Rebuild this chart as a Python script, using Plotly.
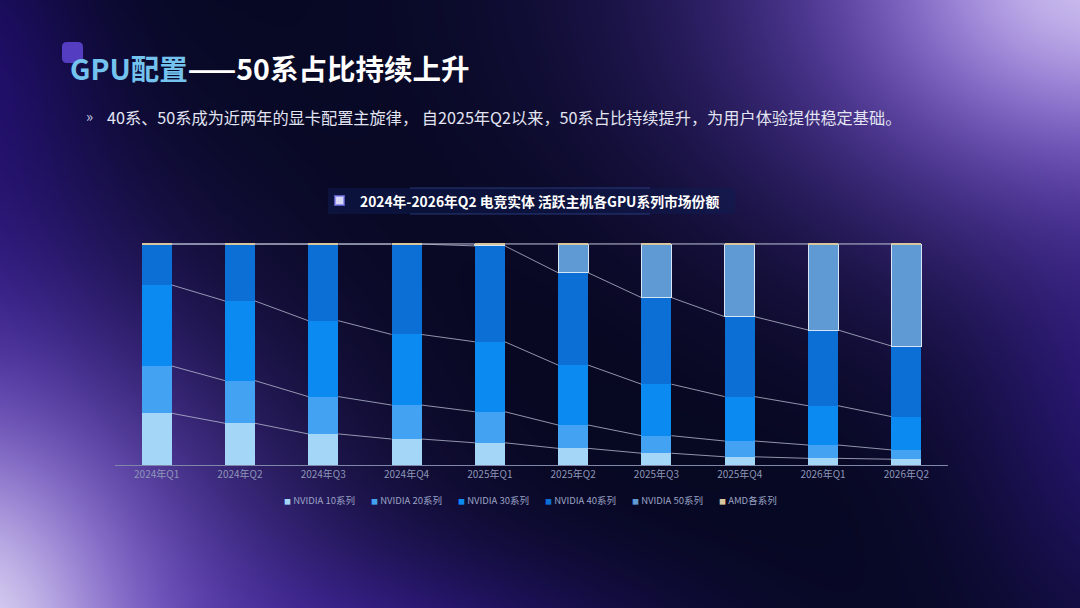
import base64
import struct
import zlib

import numpy as np
import plotly.graph_objects as go

W, H = 1080, 608

quarters = ["2024年Q1", "2024年Q2", "2024年Q3", "2024年Q4", "2025年Q1",
            "2025年Q2", "2025年Q3", "2025年Q4", "2026年Q1", "2026年Q2"]

nv10 = [23.3, 18.8, 14.0, 11.7, 10.0, 7.5, 5.3, 3.7, 3.0, 2.6]
nv20 = [21.3, 19.2, 16.8, 15.3, 14.0, 10.5, 7.9, 7.1, 6.0, 4.2]
nv30 = [36.5, 35.9, 34.2, 31.8, 31.5, 27.0, 23.2, 20.0, 17.7, 15.0]
nv40 = [18.4, 25.6, 34.5, 40.7, 43.2, 41.6, 39.0, 36.0, 34.1, 31.8]
nv50 = [0.0, 0.0, 0.0, 0.0, 0.8, 12.9, 24.1, 32.7, 38.7, 45.9]
amd = [0.5, 0.5, 0.5, 0.5, 0.5, 0.5, 0.5, 0.5, 0.5, 0.5]

series_names = ["NVIDIA 10系列", "NVIDIA 20系列", "NVIDIA 30系列",
                "NVIDIA 40系列", "NVIDIA 50系列", "AMD各系列"]
series_vals = [nv10, nv20, nv30, nv40, nv50, amd]
series_colors = ["#a3d6f7", "#43a3f2", "#0b8bf2", "#0b6fd6", "#5f9ad4", "#d8c69e"]

FONT = "Noto Sans CJK SC"
BAR_W = 0.36


# ---------- background: soft purple glows on a navy base ----------
def png_uri(rgb):
    h, w, _ = rgb.shape
    raw = b"".join(b"\x00" + rgb[r].tobytes() for r in range(h))

    def chunk(tag, data):
        c = struct.pack(">I", len(data)) + tag + data
        return c + struct.pack(">I", zlib.crc32(tag + data) & 0xffffffff)

    png = (b"\x89PNG\r\n\x1a\n"
           + chunk(b"IHDR", struct.pack(">IIBBBBB", w, h, 8, 2, 0, 0, 0))
           + chunk(b"IDAT", zlib.compress(raw, 9))
           + chunk(b"IEND", b""))
    return "data:image/png;base64," + base64.b64encode(png).decode()


def background():
    sw, sh = W // 2, H // 2
    xs = (np.arange(sw) + 0.5) * 2
    ys = (np.arange(sh) + 0.5) * 2
    X, Y = np.meshgrid(xs, ys)
    img = np.ones((sh, sw, 3)) * np.array([5, 8, 32], float)

    def glow(color, cx, cy, rx, ry, strength):
        nonlocal img
        g = np.exp(-(((X - cx) / rx) ** 2 + ((Y - cy) / ry) ** 2)) * strength
        img = img * (1 - g[..., None]) + np.array(color, float) * g[..., None]

    glow((3, 5, 22), 560, 320, 420, 230, 0.7)
    glow((36, 14, 118), -40, 60, 120, 170, 0.7)
    glow((44, 18, 140), -90, 380, 200, 300, 0.85)
    glow((58, 26, 160), 300, 680, 340, 120, 0.85)
    glow((46, 24, 132), 1140, 400, 160, 260, 0.75)
    glow((80, 44, 180), 1120, -20, 430, 300, 0.95)
    glow((150, 120, 220), 1100, -20, 280, 210, 0.8)
    glow((212, 200, 242), 1100, -30, 165, 130, 0.9)
    glow((78, 44, 178), -20, 640, 340, 330, 0.95)
    glow((140, 112, 210), -30, 650, 240, 250, 0.9)
    glow((225, 218, 245), -40, 660, 135, 180, 1.0)
    return np.clip(img, 0, 255).astype(np.uint8)


fig = go.Figure()

x_idx = list(range(len(quarters)))
for name, vals, color in zip(series_names, series_vals, series_colors):
    is50 = name == "NVIDIA 50系列"
    fig.add_trace(go.Bar(
        x=x_idx, y=vals, name=name, width=BAR_W,
        marker=dict(color=color,
                    line=dict(color="#d6e6f6" if is50 else color,
                              width=1 if is50 else 0)),
        showlegend=False,
    ))

# series lines joining the segment boundaries of neighbouring bars
totals = np.sum(np.array(series_vals), axis=0)
cum = np.cumsum(np.array(series_vals), axis=0) / totals * 100
lx, ly = [], []
for k in range(len(series_vals)):
    for i in range(len(quarters) - 1):
        lx += [i + BAR_W / 2, i + 1 - BAR_W / 2, None]
        ly += [cum[k][i], cum[k][i + 1], None]
fig.add_trace(go.Scatter(x=lx, y=ly, mode="lines", showlegend=False,
                         hoverinfo="skip",
                         line=dict(color="rgba(190,195,215,0.75)", width=1)))

# legend entries: the small square key is part of the label text so it sits
# right next to the name, like in the original
for name, color in zip(series_names + [""], series_colors + ["#000000"]):
    label = (f"<span style='color:{color};font-size:7px'>■</span> {name}"
             if name else " ")
    fig.add_trace(go.Scatter(x=[None], y=[None], mode="markers", name=label,
                             marker=dict(size=0.1, color="rgba(0,0,0,0)",
                                         line=dict(width=0))))

fig.update_layout(
    width=W, height=H,
    margin=dict(l=0, r=0, t=0, b=0),
    paper_bgcolor="#050820", plot_bgcolor="rgba(0,0,0,0)",
    barmode="stack",
    font=dict(family=FONT, color="#9aa2c4", size=10),
    xaxis=dict(domain=[115 / W, 948 / W], range=[-0.5, 9.5],
               tickvals=x_idx, ticktext=quarters, showgrid=False,
               zeroline=False, showline=True, linecolor="#8088aa",
               linewidth=1, ticks="", tickfont=dict(size=10, color="#8e96b8")),
    yaxis=dict(domain=[1 - 465 / H, 1 - 243 / H], range=[0, 100],
               visible=False),
    legend=dict(orientation="h", x=244 / W, xanchor="left",
                y=1 - 500 / H, yanchor="middle", bgcolor="rgba(0,0,0,0)",
                font=dict(size=9.5, color="#9aa2c4"), itemwidth=30,
                entrywidth=42, tracegroupgap=0, traceorder="normal"),
    showlegend=True,
)

fig.add_layout_image(dict(source=png_uri(background()), xref="paper",
                          yref="paper", x=0, y=1, sizex=1, sizey=1,
                          sizing="stretch", layer="below"))

# title decoration
fig.add_shape(type="path", xref="paper", yref="paper",
              path="M 0.0620,0.9310 L 0.0720,0.9310 Q 0.0769,0.9310 0.0769,0.9228 "
                   "L 0.0769,0.9046 Q 0.0769,0.8964 0.0720,0.8964 L 0.0620,0.8964 "
                   "Q 0.0574,0.8964 0.0574,0.9046 L 0.0574,0.9228 Q 0.0574,0.9310 0.0620,0.9310 Z",
              fillcolor="rgba(96,70,215,0.85)", line=dict(width=0))

fig.add_annotation(xref="paper", yref="paper", x=68 / W, y=1 - 68 / H,
                   xanchor="left", yanchor="middle", showarrow=False,
                   text="<b><span style='color:#74c2ee'>GPU配置</span>——50系占比持续上升</b>",
                   font=dict(family=FONT, size=28.5, color="#ffffff"))

fig.add_annotation(xref="paper", yref="paper", x=84 / W, y=1 - 116 / H,
                   xanchor="left", yanchor="middle", showarrow=False,
                   text="»", font=dict(family=FONT, size=15, color="#c4cae4"))
fig.add_annotation(xref="paper", yref="paper", x=105 / W, y=1 - 117 / H,
                   xanchor="left", yanchor="middle", showarrow=False,
                   text="40系、50系成为近两年的显卡配置主旋律， 自2025年Q2以来，50系占比持续提升，为用户体验提供稳定基础。",
                   font=dict(family=FONT, size=16.2, color="#e2e4f2"))

# chart title band
fig.add_shape(type="rect", xref="paper", yref="paper",
              x0=328 / W, x1=735 / W, y0=1 - 214 / H, y1=1 - 188 / H,
              fillcolor="rgba(14,28,80,0.5)", line=dict(width=0))
for yy in (188, 214):
    fig.add_shape(type="line", xref="paper", yref="paper",
                  x0=410 / W, x1=650 / W, y0=1 - yy / H, y1=1 - yy / H,
                  line=dict(color="rgba(80,120,220,0.4)", width=1))
fig.add_shape(type="rect", xref="paper", yref="paper",
              x0=335 / W, x1=344 / W, y0=1 - 205 / H, y1=1 - 196 / H,
              fillcolor="#d8d8f6", line=dict(color="rgba(120,120,240,0.7)", width=2))
fig.add_annotation(xref="paper", yref="paper", x=358 / W, y=1 - 201 / H,
                   xanchor="left", yanchor="middle", showarrow=False,
                   text="<b>2024年-2026年Q2 电竞实体 活跃主机各GPU系列市场份额</b>",
                   font=dict(family=FONT, size=13.8, color="#ffffff"))

fig.write_html("out.html", config={"displayModeBar": False},
               post_script="document.body.style.margin='0';")
